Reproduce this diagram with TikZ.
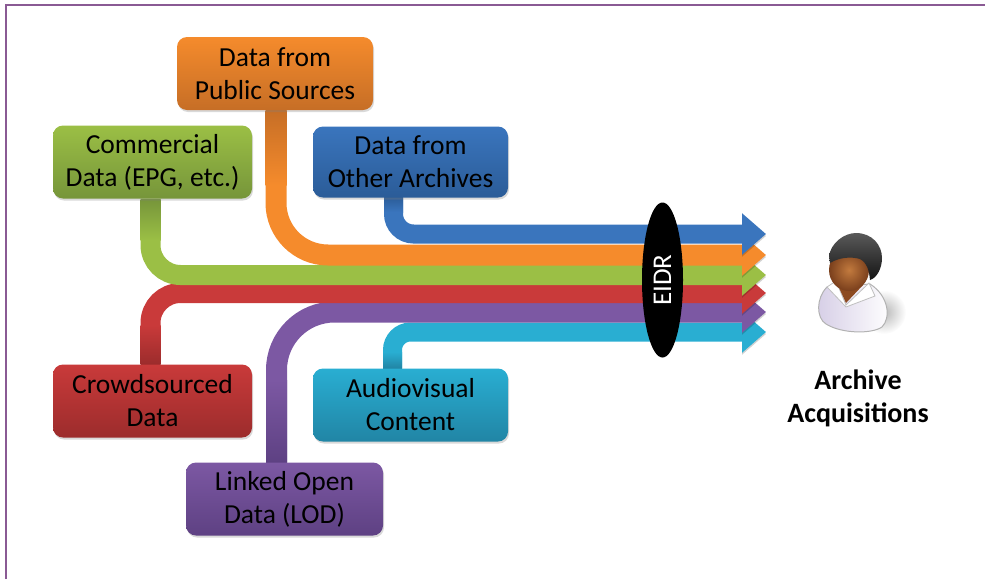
\documentclass[tikz,border=0pt]{standalone}
\usepackage{fontspec}
\setmainfont{Carlito}
\usetikzlibrary{arrows.meta,backgrounds,shadows,shapes.geometric}
\definecolor{orangeband}{HTML}{F58B2C}
\definecolor{orangedark}{HTML}{C66E26}
\definecolor{greenband}{HTML}{9BBF45}
\definecolor{greendark}{HTML}{76953A}
\definecolor{blueband}{HTML}{3A75BD}
\definecolor{bluedark}{HTML}{2B5C98}
\definecolor{redband}{HTML}{C93A3A}
\definecolor{reddark}{HTML}{9C2C2C}
\definecolor{purpleband}{HTML}{7C58A3}
\definecolor{purpledark}{HTML}{5E4183}
\definecolor{tealband}{HTML}{29AED2}
\definecolor{tealdark}{HTML}{2185A5}
\definecolor{framecol}{HTML}{8A5A94}
\definecolor{shirtcol}{HTML}{D6CEE6}
\definecolor{neckcol}{HTML}{8C4A20}
\definecolor{facecol}{HTML}{C27A3E}
\definecolor{faceedge}{HTML}{7A3F1C}
\tikzset{
	databox/.style={rounded corners=10pt,minimum height=73pt,align=center,inner sep=0pt,
		font=\fontsize{27.5}{33}\selectfont,text=black,
		drop shadow={opacity=0.3,shadow xshift=1pt,shadow yshift=-2pt}},
	band/.style={line width=20pt,-{Triangle[length=24pt,width=40pt]},
		preaction={draw=black,opacity=0.18,transform canvas={yshift=-2pt}}}
}
\begin{document}
\begin{tikzpicture}[x=1pt,y=-1pt]
	\useasboundingbox (0,0) rectangle (985,579);
	\draw[framecol,line width=2pt] (6,579) -- (6,5) -- (985,5);

	\node[databox,minimum width=196pt,top color=orangeband,bottom color=orangedark] (pubbox) at (275,73.5) {Data from\\Public Sources};
	\node[databox,minimum width=199pt,top color=greenband,bottom color=greendark] (combox) at (152.5,162) {Commercial\\Data (EPG, etc.)};
	\node[databox,minimum width=195pt,minimum height=71pt,top color=blueband,bottom color=bluedark] (arcbox) at (410.5,162) {Data from\\Other Archives};
	\node[databox,minimum width=199pt,top color=redband,bottom color=reddark] (crowdbox) at (152.5,401) {Crowdsourced\\Data};
	\node[databox,minimum width=195pt,top color=tealband,bottom color=tealdark] (avbox) at (410.5,405) {Audiovisual\\Content};
	\node[databox,minimum width=197pt,top color=purpleband,bottom color=purpledark] (lodbox) at (284.5,499) {Linked Open\\Data (LOD)};

	\coordinate (arcend) at (766,234);
	\coordinate (pubend) at (766,255);
	\coordinate (comend) at (766,275);
	\coordinate (crowdend) at (766,293);
	\coordinate (lodend) at (766,312);
	\coordinate (avend) at (766,332);

	\begin{scope}[on background layer]
		\draw[band,tealband,line width=19pt,rounded corners=18pt] ([xshift=-18pt]avbox.north) |- (avend);
		\draw[band,purpleband,line width=21pt,rounded corners=58pt] ([xshift=-8pt]lodbox.north) |- (lodend);
		\draw[band,redband,rounded corners=30pt] ([xshift=-2pt]crowdbox.north) |- (crowdend);
		\draw[band,greenband,rounded corners=30pt] ([xshift=-2pt]combox.south) |- (comend);
		\draw[band,orangeband,line width=21pt,rounded corners=52pt] ([xshift=1pt]pubbox.south) |- (pubend);
		\draw[band,blueband,line width=19pt,rounded corners=20pt] ([xshift=-17pt]arcbox.south) |- (arcend);

		% darker where the bands leave the boxes
		\shade[top color=tealband,bottom color=tealdark] (383,352) rectangle (402,368);
		\shade[top color=purpleband,bottom color=purpledark] (266,380) rectangle (287,462);
		\shade[top color=redband,bottom color=reddark] (140.5,325) rectangle (160.5,364);
		\shade[top color=greendark,bottom color=greenband] (140.5,199) rectangle (160.5,240);
		\shade[top color=orangedark,bottom color=orangeband] (265.5,110) rectangle (286.5,185);
		\shade[top color=bluedark,bottom color=blueband] (384,197) rectangle (403,212);
	\end{scope}

	\node[ellipse,fill=black,text=white,rotate=90,minimum width=155pt,minimum height=41pt,inner sep=0pt,font=\fontsize{27}{30}\selectfont] (eidr) at (662.5,280) {EIDR};

	% person
	\shade[inner color=black!28,outer color=white] (884,312) circle (22);
	\shade[left color=shirtcol,right color=white,draw=black!30,line width=1pt]
		(827,287) .. controls (816,298) and (816,318) .. (826,324)
		.. controls (842,334) and (872,334) .. (882,327)
		.. controls (891,318) and (889,296) .. (870,284) -- cycle;
	\fill[white,draw=black!25,line width=0.8pt] (827,287) -- (836,281) -- (846,305) -- (869,283) -- (875,296) -- (846,307) -- cycle;
	\fill[neckcol] (836,281) -- (846,303) -- (863,285) -- cycle;
	\shade[inner color=facecol,outer color=faceedge] (849,270) ellipse (20 and 21);
	\shade[top color=black!65,bottom color=black!92]
		(829,256) .. controls (831,243) and (844,233) .. (856,233)
		.. controls (872,233) and (882,245) .. (882,258)
		.. controls (882,268) and (877,278) .. (870,280)
		.. controls (869,270) and (867,263) .. (860,259)
		.. controls (850,256) and (838,258) .. (830,263) -- cycle;

	\node[align=center,font=\fontsize{28}{33}\selectfont\bfseries,inner sep=0pt] (acqlabel) at (858,398) {Archive\\Acquisitions};
\end{tikzpicture}
\end{document}
